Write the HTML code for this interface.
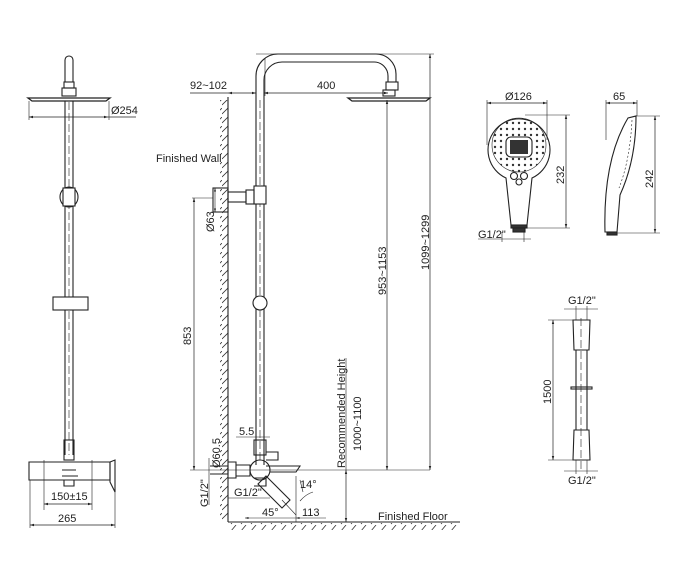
<!DOCTYPE html>
<html><head><meta charset="utf-8"><style>
html,body{margin:0;padding:0;background:#fff;}
svg{display:block;font-family:"Liberation Sans",sans-serif;}
text{font-size:11px;fill:#222;}
</style></head><body>
<svg width="700" height="575" viewBox="0 0 700 575" xmlns="http://www.w3.org/2000/svg">
<defs>
<pattern id="hw" width="6" height="9" patternUnits="userSpaceOnUse"><path d="M6 0 L0 6" stroke="#333" stroke-width="0.8"/></pattern>
<pattern id="hf" width="10" height="7" patternUnits="userSpaceOnUse"><path d="M6 0 L1 6" stroke="#333" stroke-width="0.8"/></pattern>
<pattern id="dots" width="6" height="6" patternUnits="userSpaceOnUse"><circle cx="3" cy="3" r="1.2" fill="#333"/></pattern>
<marker id="a" viewBox="0 0 10 10" refX="10" refY="5" markerWidth="6" markerHeight="6" orient="auto-start-reverse"><path d="M0 2 L10 5 L0 8z" fill="#222"/></marker>
</defs>
<g stroke="#222" fill="none" stroke-width="1.1">
<!-- LEFT VIEW -->
<path d="M65 82 V60 a4 4 0 0 1 8 0 V82"/>
<rect x="64" y="82" width="10" height="6"/>
<rect x="62" y="88" width="14" height="8"/>
<path d="M28 98 L110 98 L106 101 L32 101 Z" stroke-width="1.3"/>
<path d="M65 101 V455 M73 101 V455"/>
<path d="M69 102 V455" stroke-dasharray="8 3" stroke-width="0.6"/>
<line x1="29" y1="101" x2="29" y2="120" stroke-width="0.6"/>
<line x1="109" y1="101" x2="109" y2="120" stroke-width="0.6"/>
<line x1="29" y1="117" x2="108" y2="117" marker-start="url(#a)" marker-end="url(#a)" stroke-width="0.7"/>
<line x1="108" y1="117" x2="136" y2="117" stroke-width="0.7"/>
<ellipse cx="69" cy="197" rx="9" ry="10" fill="#fff"/>
<rect x="63" y="188" width="12" height="18" fill="#fff"/>
<rect x="53" y="297" width="35" height="13" fill="#fff"/>
<rect x="64" y="440" width="10" height="20"/>
<path d="M29 462 H110 V480 H29 Z"/>
<path d="M110 462 L115 460 V492 L110 482 Z"/>
<path d="M62 470 H76 M62 476 H78 M64 480 V486 H74 V480"/>
<path d="M44 460 V510 M92 460 V510 M30 480 V528 M115 492 V528" stroke-width="0.6"/>
<line x1="44" y1="504" x2="92" y2="504" marker-start="url(#a)" marker-end="url(#a)" stroke-width="0.7"/>
<line x1="30" y1="525" x2="115" y2="525" marker-start="url(#a)" marker-end="url(#a)" stroke-width="0.7"/>

<!-- MIDDLE VIEW -->
<rect x="220" y="100" width="8" height="422" fill="url(#hw)" stroke="none"/>
<line x1="228" y1="97" x2="228" y2="522"/>
<line x1="228" y1="522" x2="460" y2="522"/>
<rect x="228" y="523" width="232" height="7" fill="url(#hf)" stroke="none"/>
<path d="M256 465 V76 a22 22 0 0 1 22 -22 H376 a20 20 0 0 1 20 20 V82"/>
<path d="M264 465 V80 a18 18 0 0 1 18 -18 H374 a14 14 0 0 1 14 14 V82"/>
<path d="M260 100 V460" stroke-dasharray="8 3" stroke-width="0.6"/>
<rect x="386" y="82" width="12" height="8"/>
<rect x="383" y="90" width="12" height="6"/>
<path d="M348 98 L430 98 L426 101 L352 101 Z" stroke-width="1.3"/>
<rect x="254" y="186" width="12" height="18" fill="#fff"/>
<rect x="213" y="188" width="15" height="24" />
<rect x="228" y="192" width="18" height="10"/>
<rect x="246" y="190" width="8" height="14"/>
<circle cx="260" cy="303" r="7" fill="#fff"/>
<rect x="254" y="440" width="12" height="15"/>
<path d="M266 452 H278 V460 H266"/>
<circle cx="260" cy="470" r="10"/>
<path d="M266 466 H300 L296 472 H270"/>
<path d="M228 462 H236 V478 H228 M236 465 H250 V476 H236 M210 466 H228 V474 H210"/>
<path d="M266 476 L290 500 L282 508 L258 484 Z"/>
<line x1="282" y1="500" x2="296" y2="515" stroke-width="0.6"/>
<path d="M254 478 H266 V486 H254"/>
<!-- dims middle -->
<line x1="190" y1="470" x2="430" y2="470" stroke-width="0.6"/>
<line x1="256" y1="54" x2="434" y2="54" stroke-width="0.6"/>
<line x1="265" y1="58" x2="265" y2="96" stroke-width="0.6"/>
<line x1="190" y1="93" x2="228" y2="93" stroke-width="0.7"/>
<line x1="228" y1="93" x2="256" y2="93" marker-start="url(#a)" marker-end="url(#a)" stroke-width="0.7"/>
<line x1="264" y1="93" x2="388" y2="93" marker-start="url(#a)" marker-end="url(#a)" stroke-width="0.7"/>
<line x1="430" y1="54" x2="430" y2="470" marker-start="url(#a)" marker-end="url(#a)" stroke-width="0.7"/>
<line x1="387" y1="100" x2="387" y2="470" marker-start="url(#a)" marker-end="url(#a)" stroke-width="0.7"/>
<line x1="192" y1="198" x2="213" y2="198" stroke-width="0.6"/>
<line x1="194" y1="198" x2="194" y2="470" marker-start="url(#a)" marker-end="url(#a)" stroke-width="0.7"/>
<line x1="215" y1="188" x2="215" y2="212" marker-start="url(#a)" marker-end="url(#a)" stroke-width="0.6"/>
<line x1="346" y1="470" x2="346" y2="522" marker-start="url(#a)" marker-end="url(#a)" stroke-width="0.7"/>
<line x1="346" y1="358" x2="346" y2="470" stroke-width="0.6"/>
<line x1="236" y1="437" x2="270" y2="437" stroke-width="0.6"/>
<line x1="209" y1="458" x2="209" y2="505" stroke-width="0.6"/>
<line x1="228" y1="498" x2="270" y2="498" stroke-width="0.6"/>
<line x1="245" y1="518" x2="296" y2="518" marker-start="url(#a)" stroke-width="0.6"/>
<line x1="296" y1="518" x2="326" y2="518" marker-start="url(#a)" stroke-width="0.6"/>
<line x1="296" y1="476" x2="296" y2="522" stroke-width="0.6"/>
<path d="M300 480 L303 492 M300 501 Q306 494 313 492" stroke-width="0.6"/>

<!-- HAND SHOWER FRONT -->
<path d="M511 225 L506 178 A31 31 0 1 1 532 178 L527 225 Z" fill="#fff"/>
<circle cx="519" cy="145" r="27" stroke-width="0.6" fill="url(#dots)"/>
<rect x="506" y="137" width="26" height="20" rx="5" fill="#fff"/>
<rect x="510" y="140" width="18" height="14" fill="#333" stroke="none"/>
<circle cx="514" cy="176" r="3.5" fill="#fff"/><circle cx="524" cy="176" r="3.5" fill="#fff"/><circle cx="519" cy="182" r="3" fill="#fff"/>
<rect x="511" y="225" width="16" height="3" fill="#333"/>
<rect x="513" y="228" width="12" height="4" fill="#333"/>
<line x1="487" y1="103" x2="547" y2="103" marker-start="url(#a)" marker-end="url(#a)" stroke-width="0.7"/>
<path d="M487 100 V145 M547 100 V140 M525 115 H570 M527 228 H570 M502 232 V242 M524 232 V242" stroke-width="0.6"/>
<line x1="566" y1="115" x2="566" y2="228" marker-start="url(#a)" marker-end="url(#a)" stroke-width="0.7"/>
<line x1="478" y1="239" x2="531" y2="239" stroke-width="0.6"/>
<!-- side -->
<path d="M605 232 Q603 160 628 118 L636 116 Q636 160 620 195 L617 232 Z" fill="#fff"/>
<path d="M632 120 Q630 160 619 188" stroke-width="0.6" stroke-dasharray="2 2"/>
<rect x="607" y="232" width="10" height="3" fill="#333"/>
<line x1="606" y1="103" x2="637" y2="103" marker-start="url(#a)" marker-end="url(#a)" stroke-width="0.7"/>
<path d="M606 100 V140 M637 100 V116 M636 116 H660 M617 233 H660" stroke-width="0.6"/>
<line x1="655" y1="116" x2="655" y2="233" marker-start="url(#a)" marker-end="url(#a)" stroke-width="0.7"/>
<!-- hose -->
<path d="M573 320 H590 L589 350 H574 Z"/>
<path d="M574 430 H589 L590 460 H573 Z"/>
<path d="M576 350 V430 M587 350 V430"/>
<rect x="571" y="387" width="21" height="2"/>
<line x1="581" y1="318" x2="581" y2="470" stroke-dasharray="8 3" stroke-width="0.6"/>
<line x1="548" y1="320" x2="573" y2="320" stroke-width="0.6"/>
<line x1="548" y1="460" x2="573" y2="460" stroke-width="0.6"/>
<line x1="553" y1="320" x2="553" y2="460" marker-start="url(#a)" marker-end="url(#a)" stroke-width="0.7"/>
<line x1="564" y1="309" x2="598" y2="309" stroke-width="0.6"/>
<line x1="564" y1="471" x2="598" y2="471" stroke-width="0.6"/>
<path d="M576 306 V320 M587 306 V320 M576 460 V474 M587 460 V474" stroke-width="0.6"/>
</g>
<text x="111" y="114">Ø254</text>
<text x="51" y="500">150±15</text>
<text x="58" y="522">265</text>
<text x="190" y="89">92~102</text>
<text x="317" y="89">400</text>
<text x="156" y="162">Finished Wall</text>
<text x="239" y="435">5.5</text>
<text x="234" y="496">G1/2"</text>
<text x="262" y="516">45°</text>
<text x="302" y="516">113</text>
<text x="300" y="488">14°</text>
<text x="378" y="520">Finished Floor</text>
<text transform="translate(214,232) rotate(-90)">Ø63</text>
<text transform="translate(191,345) rotate(-90)">853</text>
<text transform="translate(220,468) rotate(-90)">Ø60.5</text>
<text transform="translate(208,507) rotate(-90)">G1/2"</text>
<text transform="translate(345,468) rotate(-90)">Recommended Height</text>
<text transform="translate(361,451) rotate(-90)">1000~1100</text>
<text transform="translate(386,295) rotate(-90)">953~1153</text>
<text transform="translate(429,270) rotate(-90)">1099~1299</text>
<text x="505" y="100">Ø126</text>
<text x="613" y="100">65</text>
<text x="478" y="238">G1/2"</text>
<text transform="translate(564,184) rotate(-90)">232</text>
<text transform="translate(653,188) rotate(-90)">242</text>
<text x="568" y="304">G1/2"</text>
<text x="568" y="484">G1/2"</text>
<text transform="translate(551,404) rotate(-90)">1500</text>
</svg>
</body></html>
